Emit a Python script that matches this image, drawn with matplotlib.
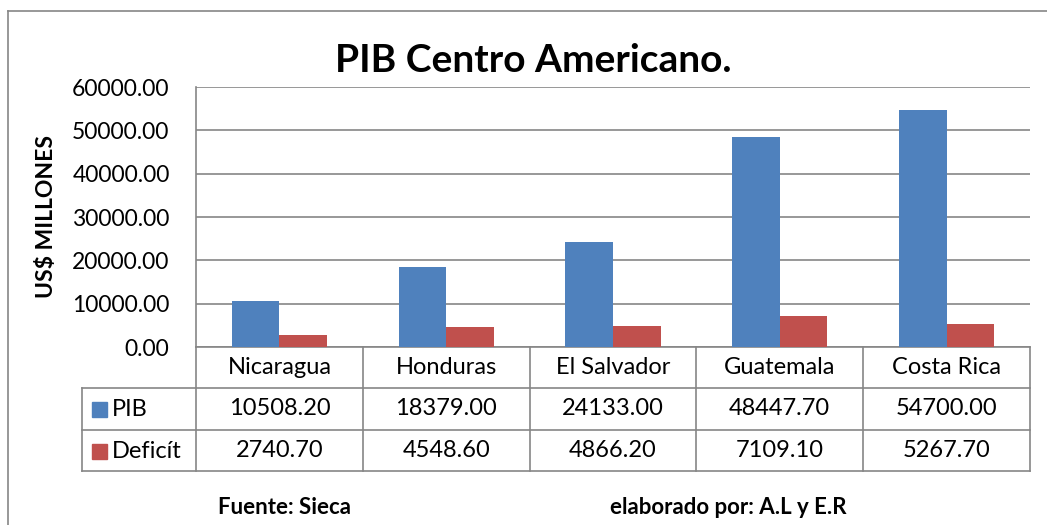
import numpy as np
import matplotlib.pyplot as plt
import matplotlib.transforms as mtransforms
from matplotlib.patches import Rectangle
from matplotlib.lines import Line2D

plt.rcParams['font.family'] = ['Lato', 'DejaVu Sans']

paises = ["Nicaragua", "Honduras", "El Salvador", "Guatemala", "Costa Rica"]
pib = [10508.20, 18379.00, 24133.00, 48447.70, 54700.00]
deficit = [2740.70, 4548.60, 4866.20, 7109.10, 5267.70]
series_names = ["PIB", "Deficít"]
colors = ["#4F81BD", "#C0504D"]
yticks = [0, 10000, 20000, 30000, 40000, 50000, 60000]

W, H = 1047, 525
fig = plt.figure(figsize=(W / 100, H / 100), dpi=100)

# outer chart border (right/bottom run off the picture)
fig.add_artist(Line2D([8 / W, 1.0], [1 - 11 / H, 1 - 11 / H], color="#868686", lw=1.2))
fig.add_artist(Line2D([8 / W, 8 / W], [0, 1 - 11 / H], color="#868686", lw=1.2))

ax = fig.add_axes([196 / W, 1 - 347 / H, (1030 - 196) / W, (347 - 87) / H])
x = np.arange(len(paises))
bw = 0.285
ax.bar(x - bw / 2, pib, bw, color=colors[0], zorder=3)
ax.bar(x + bw / 2, deficit, bw, color=colors[1], zorder=3)
ax.set_xlim(-0.5, len(paises) - 0.5)
ax.set_ylim(0, 60000)
ax.set_yticks(yticks)
ax.set_yticklabels([f"{v:.2f}" for v in yticks], fontsize=16.5)
ax.tick_params(axis="y", length=0, pad=19)
ax.set_xticks([])
ax.grid(axis="y", color="#868686", lw=1.2, zorder=0)
for s in ["top", "right", "bottom"]:
    ax.spines[s].set_visible(False)
ax.spines["left"].set_color("#868686")
ax.spines["left"].set_linewidth(1.2)

ax.set_ylabel("US$ MILLONES", fontsize=16.5, fontweight="bold")
ax.yaxis.set_label_coords((47 - 196) / (1030 - 196), 0.5)
ax.yaxis.label.set_va("center")

fig.text(533 / W, 1 - 60 / H, "PIB Centro Americano.", fontsize=28,
         fontweight="bold", ha="center", va="center")

# data table under the axis
trans = mtransforms.blended_transform_factory(ax.transData, ax.transAxes)
row_h = 41.3 / 260
gc = "#868686"
left_tab = -0.5 - (196 - 82) / ((1030 - 196) / 5)
rows_y = [0, -row_h, -2 * row_h, -3 * row_h]
# horizontal lines
ax.add_line(Line2D([-0.5, 4.5], [0, 0], transform=trans, color=gc, lw=1.2, clip_on=False))
for ry in rows_y[1:]:
    ax.add_line(Line2D([left_tab, 4.5], [ry, ry], transform=trans, color=gc, lw=1.2, clip_on=False))
# vertical lines
for xv in np.arange(-0.5, 5.0, 1.0):
    ax.add_line(Line2D([xv, xv], [0, rows_y[3]], transform=trans, color=gc, lw=1.2, clip_on=False))
ax.add_line(Line2D([left_tab, left_tab], [rows_y[1], rows_y[3]], transform=trans, color=gc, lw=1.2, clip_on=False))

for i, p in enumerate(paises):
    ax.text(i, -row_h / 2, p, transform=trans, ha="center", va="center", fontsize=17)
    ax.text(i, -1.5 * row_h, f"{pib[i]:.2f}", transform=trans, ha="center", va="center", fontsize=17)
    ax.text(i, -2.5 * row_h, f"{deficit[i]:.2f}", transform=trans, ha="center", va="center", fontsize=17)

for k, name in enumerate(series_names):
    yc = 1 - (409 + 42 * k) / H
    fig.add_artist(Rectangle((92 / W, yc - 7.5 / H), 15 / W, 15 / H, color=colors[k]))
    fig.text(112 / W, yc, name, fontsize=17, ha="left", va="center")

fig.text(285 / W, 1 - 507 / H, "Fuente: Sieca", fontsize=16, fontweight="bold", ha="center", va="center")
fig.text(728 / W, 1 - 507 / H, "elaborado por: A.L y E.R", fontsize=16, fontweight="bold", ha="center", va="center")

fig.savefig("out.png", dpi=100)
